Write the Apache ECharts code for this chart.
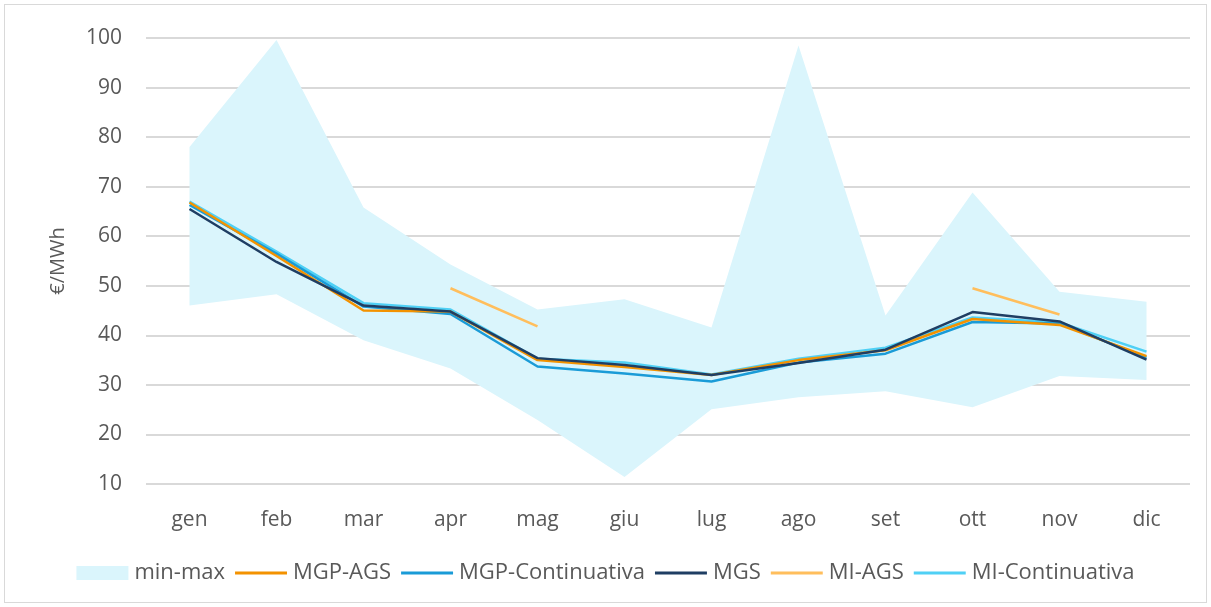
<!DOCTYPE html>
<html>
<head>
<meta charset="utf-8">
<script src="https://cdn.jsdelivr.net/npm/echarts@6/dist/echarts.min.js"></script>
<style>
  html, body { margin: 0; padding: 0; background: #fff; }
  #chart { position: absolute; left: 4px; top: 4px; width: 1201px; height: 597px; border: 1px solid #d9d9d9; }
</style>
</head>
<body>
<div id="chart"></div>
<script>
const months = ["gen", "feb", "mar", "apr", "mag", "giu", "lug", "ago", "set", "ott", "nov", "dic"];
const minVals = [46, 48.3, 39, 33.3, 22.9, 11.4, 25.1, 27.5, 28.7, 25.5, 31.8, 31];
const maxVals = [78, 99.6, 65.8, 54.3, 45.2, 47.3, 41.6, 98.5, 44, 68.8, 48.8, 46.8];
const mgpAgs = [66.8, 56, 45, 44.8, 35, 33.6, 32, 35, 37, 43.3, 42.1, 35.8];
const mgpCont = [66.3, 56.5, 45.8, 44.3, 33.7, 32.3, 30.7, 34.5, 36.3, 42.7, 42.4, 35.5];
const mgs = [65.5, 54.8, 46, 44.8, 35.4, 34, 32, 34.4, 37.1, 44.7, 42.8, 35.1];
const miAgs = [null, null, null, 49.5, 41.8, null, null, null, null, 49.5, 44.2, null];
const miCont = [67, 56.9, 46.5, 45.2, 35.3, 34.5, 32.1, 35.3, 37.5, 43.6, 42.6, 36.7];

const spread = maxVals.map((v, i) => +(v - minVals[i]).toFixed(2));

(() => {
  let myChart = echarts.init(document.querySelector("#chart"));
  const font = "'Open Sans', 'Noto Sans', sans-serif";
  // thin bar centred in the legend box, with invisible corner dots to keep the box size
  const lineIcon = "path://M0,0h0.01v0.01h-0.01z M0,14h0.01v0.01h-0.01z M52,0h0.01v0.01h-0.01z M0,5.6h52v2.8h-52z";
  const line = (name, data, color, z) => ({
    name: name,
    type: "line",
    data: data,
    symbol: "none",
    z: z,
    itemStyle: { color: color },
    lineStyle: { color: color, width: 2.5 },
  });
  let option = {
    animation: false,
    grid: { left: 141, right: 16, top: 33, bottom: 118 },
    legend: {
      bottom: 13,
      left: "center",
      itemWidth: 52,
      itemHeight: 14,
      itemGap: 10,
      textStyle: { color: "#595959", fontSize: 22, fontFamily: font, padding: [0, 0, 0, 1] },
      data: [
        { name: "min-max", icon: "rect" },
        { name: "MGP-AGS", icon: lineIcon },
        { name: "MGP-Continuativa", icon: lineIcon },
        { name: "MGS", icon: lineIcon },
        { name: "MI-AGS", icon: lineIcon },
        { name: "MI-Continuativa", icon: lineIcon },
      ],
    },
    xAxis: {
      type: "category",
      data: months,
      boundaryGap: true,
      axisLine: { show: false },
      axisTick: { show: false },
      axisLabel: { color: "#595959", fontSize: 21, fontFamily: font, margin: 26 },
    },
    yAxis: {
      type: "value",
      min: 10,
      max: 100,
      interval: 10,
      name: "€/MWh",
      nameLocation: "middle",
      nameGap: 78,
      nameRotate: 90,
      nameTextStyle: { color: "#595959", fontSize: 20, fontFamily: font },
      axisLine: { show: false },
      axisTick: { show: false },
      axisLabel: { color: "#595959", fontSize: 21, fontFamily: font, margin: 24 },
      splitLine: { lineStyle: { color: "#d9d9d9", width: 2 } },
    },
    series: [
      {
        name: "base",
        type: "line",
        stack: "band",
        data: minVals,
        symbol: "none",
        lineStyle: { opacity: 0 },
        silent: true,
      },
      {
        name: "min-max",
        type: "line",
        stack: "band",
        data: spread,
        symbol: "none",
        lineStyle: { opacity: 0 },
        itemStyle: { color: "#daf5fc" },
        areaStyle: { color: "#daf5fc", opacity: 1 },
      },
      line("MI-Continuativa", miCont, "#4fd0f5", 3),
      line("MGP-Continuativa", mgpCont, "#1a9bd7", 4),
      line("MGP-AGS", mgpAgs, "#f39200", 5),
      line("MGS", mgs, "#1f3e63", 6),
      line("MI-AGS", miAgs, "#ffbe5c", 7),
    ],
  };
  myChart.setOption(option);
  window.addEventListener("resize", () => {
    myChart.resize();
  });
})();
</script>
</body>
</html>
